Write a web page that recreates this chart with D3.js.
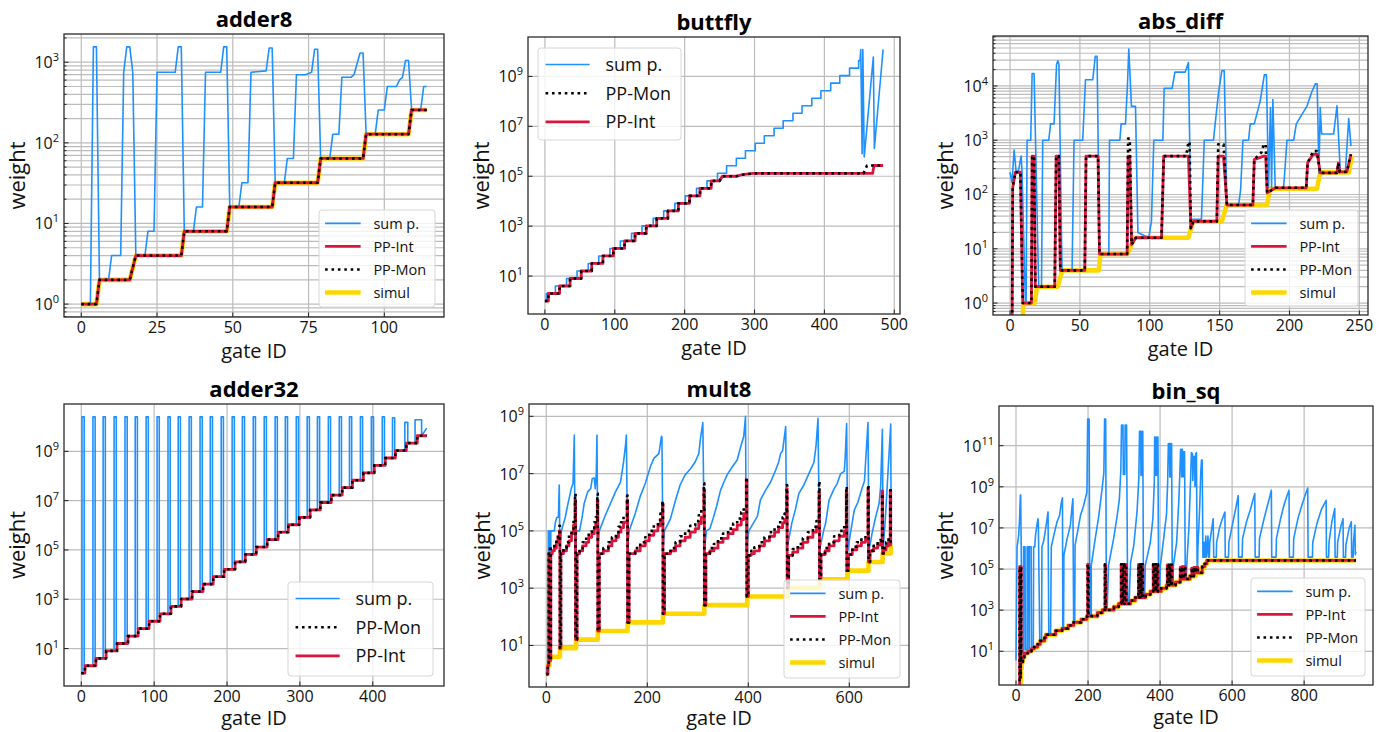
<!DOCTYPE html>
<html>
<head>
<meta charset="utf-8">
<script src="https://cdn.jsdelivr.net/npm/d3@7"></script>
<style>
  body { margin: 0; background: #fff; }
  svg { display: block; font-family: "Open Sans", "DejaVu Sans", sans-serif; }
</style>
</head>
<body>
<svg id="fig" width="1385" height="732"></svg>
<script>
// ---------- data (gate ID, weight) ----------

// adder8
var adder8XTicks = [0, 25, 50, 75, 100];
var adder8YExp = [0, 1, 2, 3];
var adder8PP = [[0,1],[5,1],[6,2],[16,2],[18,4],[33,4],[34,8],[48,8],[49,16],[63,16],[64,32],[78,32],[79,64],[93,64],[94,128],[108,128],[109,256],[114,256]];
var adder8Sum = [[0,1],[3,1],[4,1550],[5,1550],[6,2],[9,2],[10,4],[13,4],[14,750],[15,1550],[16,1550],[17,750],[18,4],[21,4],[22,8],[24,8],[25,750],[31,750],[32,1550],[33,1550],[34,8],[37,8],[38,16],[40,16],[41,750],[46,750],[47,1550],[48,1550],[49,16],[52,16],[53,32],[55,32],[56,750],[61,780],[62,1500],[63,1500],[64,32],[67,32],[68,64],[70,64],[71,700],[74,700],[76,750],[77,1450],[78,1450],[79,64],[82,64],[83,128],[85,128],[86,650],[89,650],[90,700],[92,1300],[93,1300],[94,128],[97,128],[98,256],[100,256],[101,500],[104,500],[105,600],[106,650],[107,1050],[108,1050],[109,256],[112,256],[113,500],[114,500]];

// buttfly
var buttflyXTicks = [0, 100, 200, 300, 400, 500];
var buttflyYExp = [1, 3, 5, 7, 9];
var buttflySumGates = [0,2,15,31,46,62,77,93,108,124,139,155,170,186,201,217,232,247,260,274,287,301,314,328,341,355,368,382,395,409,422,436,449];
var buttflySumLevels = [1,2,4,8,16,32,64,128,256,512,1024,2048,4096,8192,16384,32768,65536,131072,262144,524288,1048576,2097152,4194304,8388608,16777216,33554432,67108864,134217728,268435456,536870912,1073741824,2147483648,4294967296];
var buttflySumTail = [[451,4.3e9],[452,1.2e10],[454,8e5],[455,1.2e10],[457,6e5],[470,6e9],[471.5,1.3e6],[484,1.2e10]];
var buttflyIntGates = [0,5,21,36,52,67,83,98,114,129,145,160,176,191,207,222,238];
var buttflyIntLevels = [1,2,4,8,16,32,64,128,256,512,1024,2048,4096,8192,16384,32768,65536];
var buttflyIntTail = [[250,65536],[254,1e5],[274,1e5],[282,1.15e5],[298,1.3e5],[469,1.3e5],[471,2.7e5],[484,2.7e5]];
var buttflyMonTail = [[250,65536],[254,1e5],[274,1e5],[282,1.15e5],[298,1.3e5],[456,1.3e5],[458,1.8e5],[461,2.7e5],[484,2.7e5]];

// abs_diff
var absDiffXTicks = [0, 50, 100, 150, 200, 250];
var absDiffYExp = [0, 1, 2, 3, 4];
var absDiffSum = [[0,257],[1.4,165],[2.9,660],[4.3,270],[6,270],[7.9,510],[8.5,300],[11,1],[11.5,1],[12.2,1000],[14.8,1000],[15.8,17000],[17.2,17000],[20.5,2],[22.5,2],[23.4,1000],[27.7,1000],[29,2000],[31.5,2000],[33.3,25000],[34.2,29000],[35,25000],[37.2,4],[44.4,4],[45.8,1000],[52,1000],[54,13000],[59.2,13000],[61,35000],[62.3,35000],[64,8],[70.7,8],[71.2,1000],[78.6,1000],[79.5,2000],[82.6,2000],[84,10000],[85,48000],[86.9,4200],[89.8,4200],[91.5,20],[99.3,16],[101.2,32],[102.9,1000],[109.4,1000],[110.3,9000],[116,9000],[118,18000],[125.4,18000],[127.7,27000],[129.4,35],[137,35],[139,1000],[145.6,1000],[146.8,2000],[149.2,7500],[151.6,19000],[153.3,19000],[155.2,64],[163.6,64],[165,120],[166.7,1000],[170.7,1000],[171.9,2000],[174.8,2000],[179,5200],[182,16000],[183.5,16000],[185,133],[186.4,4000],[187.2,133],[188.1,5600],[189.8,133],[195.8,133],[198.2,1000],[203,1000],[204.9,2000],[212.6,4300],[216,7800],[218.6,11000],[219.8,11000],[221.1,250],[222,4000],[223,1300],[231.6,1300],[234,4300],[236.4,260],[240,260],[242.4,2500],[244,780]];
var absDiffInt = [[1.4,0.1],[1.9,133],[3.8,257],[7.4,257],[9.1,1],[15.3,1],[15.8,510],[17.2,510],[18.1,2],[32,2],[33,510],[34.9,510],[36,4],[53.5,4],[54.4,510],[63,510],[64,8],[83.8,8],[84.5,510],[85.7,510],[87,12],[90,16],[108.4,16],[110,510],[127.7,510],[129.4,24],[131.3,32],[148,32],[149,510],[152.8,510],[155.2,64],[173.8,64],[174.8,440],[181.5,510],[183,510],[184,107],[190,133],[212,133],[213,383],[217,550],[220,550],[222,250],[234,250],[235,380],[236,260],[241,260],[244,550]];
var absDiffMon = [[1.4,0.1],[1.9,133],[3.8,257],[7.4,257],[9.1,1],[15.3,1],[15.8,510],[17.2,510],[18.1,2],[32,2],[33,510],[34.9,510],[36,4],[53.5,4],[54.4,510],[63,510],[64,8],[83.8,8],[84.5,1070],[85.7,1070],[87,12],[90,16],[108.4,16],[110,510],[126,510],[127.7,930],[128.5,930],[129.4,24],[131.3,32],[148,32],[149,840],[152.8,840],[155.2,64],[173.8,64],[174.8,440],[180,600],[181.5,840],[183,840],[184,107],[190,133],[212,133],[213,383],[217,630],[219.5,630],[222,250],[234,250],[235,380],[236,260],[241,260],[244,550]];
var absDiffSimul = [[8.3,0.1],[9.5,1],[17.7,1],[19.3,2],[34.2,2],[37.3,4],[63.5,4],[64.7,8],[84,8],[89,16],[127.7,16],[131,32],[151.6,32],[155,64],[183.9,64],[186,128],[219.7,128],[222,256],[242.4,256],[244.7,512]];

// adder32
var adder32XTicks = [0, 100, 200, 300, 400];
var adder32YExp = [1, 3, 5, 7, 9];
var adder32Gates = [0,5,20,34,49,64,78,93,108,123,137,152,167,181,196,211,225,240,255,270,284,299,314,328,343,358,372,387,402,417,431,446,461];
var adder32Levels = [1,2,4,8,16,32,64,128,256,512,1024,2048,4096,8192,16384,32768,65536,131072,262144,524288,1048576,2097152,4194304,8388608,16777216,33554432,67108864,134217728,268435456,536870912,1073741824,2147483648,4294967296];
var adder32SpikeUp = [1,16,30,45,60,74,89,104,119,133,148,163,177,192,207,221,236,251,266,280,295,310,324,339,354,368,383,398,413,427,444,458];
var adder32SpikeDown = [4,19,33,48,63,77,92,107,122,136,151,166,180,195,210,224,239,254,269,283,298,313,327,342,357,371,386,401,416,430,448,467];
var adder32SpikeTop = [2.5e10,2.5e10,2.5e10,2.5e10,2.5e10,2.5e10,2.5e10,2.5e10,2.5e10,2.5e10,2.5e10,2.5e10,2.5e10,2.5e10,2.5e10,2.5e10,2.5e10,2.5e10,2.5e10,2.5e10,2.5e10,2.5e10,2.5e10,2.5e10,2.5e10,2.5e10,2.5e10,2.5e10,2.5e10,2.3e10,1.5e10,1.9e10];
var adder32SumTail = [[474,8.7e9]];

// mult8
var mult8XTicks = [0, 200, 400, 600];
var mult8YExp = [1, 3, 5, 7, 9];
var mult8Sum = [[0,1],[3,2],[4,2],[4,1e5],[6,1e5],[7,1.6e4],[9,1.6e4],[9,1e5],[16,1e5],[18,2e5],[21,3e5],[24,3e5],[25.7,4e6],[27,2.8e4],[30,1e5],[37.6,3e5],[43,9e5],[49.5,3e6],[53,4.5e6],[55.5,2.2e8],[57,2.1e4],[60,1e5],[66,1e5],[71,3e5],[75,9e5],[82,2.3e6],[88,3e6],[91,6.7e6],[95,7e6],[97,3e6],[99,1e7],[100.4,2.2e8],[102,2.1e4],[105,1e5],[117,3.5e5],[127,9e5],[137,2.3e6],[147,5e6],[153,2.5e7],[157,1e8],[158.6,2.2e8],[161,2.1e4],[164,1e5],[176,4e5],[186,1.6e6],[196,4.5e6],[206,1.7e7],[213,3.4e7],[223,5e7],[228,2e8],[229,1.9e8],[231,2.1e4],[234,1e5],[246,2.7e5],[256,1.2e6],[265,4e6],[275,9e6],[286,1.5e7],[295,2.6e7],[302,5e7],[305,1.5e8],[310,6e8],[313,2e4],[317,1e5],[324,1.2e5],[330,2.6e5],[337,7e5],[345,2.6e6],[352,5.2e6],[358,9e6],[368,1.7e7],[378,3e7],[385,8.7e7],[391,2e8],[394.5,1e9],[396,2.1e4],[401,1e5],[418,3.2e5],[424,1.2e6],[434,2.6e6],[444,5e6],[454,1.3e7],[460,2.5e7],[464,5e7],[468,6.3e7],[474,4.4e8],[476,2.1e4],[486,1.8e5],[493,5.4e5],[500,2e6],[510,4e6],[520,1e7],[530,2.5e7],[534,8.7e7],[538,8.5e8],[541,2.1e4],[549,1e5],[553,1.8e5],[560,1.2e6],[570,3e6],[576,4.5e6],[583,1e7],[590,1.2e7],[592,4e7],[594.7,5.6e8],[597,2.1e4],[603,1e5],[610,5.4e5],[617,1e6],[624,2.6e6],[630,5.5e6],[637,6e8],[639,2.1e4],[645,8e4],[652,3e5],[659,9e5],[662,3.5e6],[665.5,3.5e8],[667,2.1e4],[669,7e4],[672,4e5],[682,5.4e8],[683,4e4],[684,3.5e4]];
var mult8Int = [[0,1],[3,2],[5,1.6e4],[7,3],[9,1.6e4],[12,2e4],[16,2.5e4],[20,4e4],[23,6e4],[26,1e5],[27,8],[29,1.6e4],[34,2e4],[40,3e4],[45,4.5e4],[50,8e4],[54,1.6e5],[57,1.2e6],[58,16],[61,1.6e4],[66,2e4],[72,3e4],[79,4e4],[84,6e4],[90,8e4],[95,1.2e5],[98,1.8e5],[101,1.2e6],[102,32],[105,1.6e4],[113,2e4],[123,3e4],[130,4.5e4],[138,6e4],[143,9e4],[148,1.3e5],[153,2e5],[160,1.2e6],[161,64],[164,1.6e4],[176,2e4],[186,3e4],[196,4.5e4],[204,7e4],[213,1e5],[221,1.5e5],[226,2.5e5],[230,9e5],[231,128],[234,1.6e4],[246,2e4],[256,3e4],[265,4.5e4],[275,6e4],[285,9e4],[295,1.2e5],[302,1.8e5],[307,3e5],[312,2.8e6],[313,256],[316,1.6e4],[324,2e4],[332,2.5e4],[340,4e4],[350,5.5e4],[360,8e4],[370,1.1e5],[378,1.6e5],[386,2.5e5],[391,4e5],[396,6e6],[397,512],[400,1.4e4],[406,1.6e4],[412,2e4],[422,3e4],[432,4.5e4],[442,6.5e4],[452,9e4],[460,1.3e5],[468,1.9e5],[472,2.5e5],[476,3e6],[477,1024],[480,1.4e4],[488,1.8e4],[498,2.5e4],[508,4e4],[518,6e4],[528,9e4],[535,1.4e5],[540,2.3e6],[541,2048],[544,1.5e4],[552,2e4],[560,3e4],[570,4.5e4],[580,6.5e4],[590,1e5],[594,2.2e6],[595,4096],[598,1.5e4],[606,2.2e4],[615,3e4],[624,4e4],[632,5e4],[637,2.6e6],[638,8192],[641,2e4],[648,2.5e4],[656,3.2e4],[662,4e4],[665,2.5e6],[666,16384],[668,2.2e4],[673,3e4],[678,5e4],[681,2.6e6],[682,32768],[684,32768]];
var mult8Mon = [[0,1],[3,2],[5,2.4e4],[7,3],[9,2.4e4],[12,2.5e4],[16,3.5e4],[20,6e4],[23,9e4],[26,1.5e5],[27,8],[29,1.6e4],[34,2.5e4],[40,4e4],[45,7e4],[50,1.2e5],[54,2.5e5],[57,2e6],[58,16],[61,1.6e4],[66,2.5e4],[72,4e4],[79,6e4],[84,9e4],[90,1.3e5],[95,2e5],[98,3e5],[101,2e6],[102,32],[105,1.6e4],[113,2.5e4],[123,4e4],[130,6e4],[138,9e4],[143,1.4e5],[148,2e5],[153,3.2e5],[160,1.7e6],[161,64],[164,1.6e4],[176,2.5e4],[186,4e4],[196,6e4],[204,1e5],[213,1.6e5],[221,2.4e5],[226,4e5],[230,1.1e6],[231,128],[234,1.6e4],[246,2.5e4],[256,4e4],[265,6.5e4],[275,1e5],[285,1.5e5],[295,2.2e5],[302,3.5e5],[307,6e5],[312,4.6e6],[313,256],[316,1.6e4],[324,2.5e4],[332,3.5e4],[340,5.5e4],[350,8e4],[360,1.2e5],[370,1.8e5],[378,2.7e5],[386,4.5e5],[391,7e5],[396,7.5e6],[397,512],[400,1.4e4],[406,2e4],[412,2.7e4],[422,4e4],[432,6e4],[442,9e4],[452,1.4e5],[460,2e5],[468,3e5],[472,4e5],[476,4e6],[477,1024],[480,1.4e4],[488,2.3e4],[498,3.5e4],[508,5.5e4],[518,9e4],[528,1.4e5],[535,2.2e5],[540,5.4e6],[541,2048],[544,1.5e4],[552,2.5e4],[560,4e4],[570,6.5e4],[580,1e5],[590,1.6e5],[594,3.5e6],[595,4096],[598,1.5e4],[606,2.8e4],[615,4e4],[624,6e4],[632,8e4],[637,4e6],[638,8192],[641,2e4],[648,3e4],[656,4.5e4],[662,6e4],[665,2e6],[666,16384],[668,2.5e4],[673,4e4],[678,7e4],[681,2.6e6],[682,32768],[684,32768]];
var mult8SimulGates = [0,3,6,27,59,102,161,231,313,398,478,542,596,638,666,682];
var mult8SimulLevels = [1,2,4,8,16,32,64,128,256,512,1024,2048,4096,8192,16384,32768];

// bin_sq
var binSqXTicks = [0, 200, 400, 600, 800];
var binSqYExp = [1, 3, 5, 7, 9, 11];
var binSqSum = [[0,3.6],[2.9,1.2e6],[7.5,4.4e6],[10,3e7],[12.1,4e8],[13,4e8],[14.9,1.5e5],[16,10],[21,10],[21,1.2e6],[25,1.2e6],[26,12],[31,12],[31,1.2e6],[35,1.2e6],[36,12],[37,12],[37,1.2e6],[42,1.2e6],[43,14],[48,14],[49,1.2e6],[52,1.2e6],[54,4e6],[57,1e7],[61,2.8e7],[62,2e7],[66,30],[71,30],[72,1.2e6],[76,2e6],[80,5e6],[84,1.5e7],[89,6e7],[91,65],[96,72],[98,1.2e6],[105,4.4e6],[114,2e7],[121,4e7],[126,1.8e8],[129,2.9e8],[130,126],[132,126],[133,4.7e5],[142,3e6],[151,1.35e7],[156,1.3e8],[158,2.6e8],[160,256],[163,256],[164,1.4e6],[179,4e7],[188,1.26e8],[197,5.6e8],[199,2e12],[203,2e12],[205,512],[209,512],[209,1.5e5],[220,3e6],[230,4e7],[239,8e8],[244,5e9],[246,2e12],[249,2e12],[251,1024],[253,1024],[257,1.5e5],[271,3e6],[281,4e7],[287,2.5e8],[291,6e9],[293,1e12],[297,1e12],[298,4e9],[302,4e9],[303,1e12],[307,1e12],[310,2048],[314,2048],[318,2e5],[327,1.4e6],[336,6e7],[341,2.5e9],[343,5e11],[346,5e11],[347,3.6e9],[349,3.6e9],[350,5e11],[352,5e11],[354,4096],[357,4096],[359,1.5e5],[373,2e6],[380,2.8e7],[384,1.6e9],[385,2.6e11],[387,2.6e11],[388,3.6e9],[390,3.6e9],[391,2.6e11],[394,2.6e11],[396,8192],[399,8192],[401,1.5e5],[410,3e6],[418,5e7],[421,1.6e9],[423,1.26e11],[426,1.26e11],[427,3e9],[429,3e9],[430,1.26e11],[432,1.26e11],[434,16384],[436,16384],[437,1.5e5],[446,2e6],[452,2e8],[455,5e9],[457,6.6e10],[459,6.6e10],[460,3e9],[462,6.6e10],[464,3e9],[466,5e10],[468,5e10],[470,32768],[473,32768],[474,1.5e5],[480,1e7],[485,3e9],[487,4.6e10],[490,4e10],[491,2e9],[493,3e10],[496,3e10],[497,1e9],[499,4e10],[501,4.6e10],[503,65536],[504,65536],[505,1e6],[510,1e8],[513,5e9],[515,2e10],[517,2e10],[519,3.8e5],[522,3.8e5],[523,2e6],[525,3.8e5],[527,4e6],[529,3.8e5],[531,1e6],[533,4e6],[535,3.8e5],[537,3.8e5],[538,2e6],[542,6e6],[547.5,2.8e7],[549,3.8e5],[556,3.8e5],[557,2e6],[565,1e7],[572,2.5e7],[580,5.9e7],[581,3.8e5],[590,3.8e5],[591,2e6],[598,8e6],[606,4e7],[612,1.3e8],[617,3.8e8],[618,3.8e5],[628,3.8e5],[629,3e6],[640,2e7],[650,7e7],[657,2e8],[663,4.7e8],[664,3.8e5],[675,3.8e5],[676,3e6],[688,2.5e7],[698,1.2e8],[704,3e8],[709,6.8e8],[710,3.8e5],[722,3.8e5],[723,3e6],[735,3e7],[745,1.5e8],[752,3.5e8],[758,6.8e8],[759,3.8e5],[770,3.8e5],[771,3e6],[783,3e7],[795,1.5e8],[803,4e8],[810,8.7e8],[811,3.8e5],[823,3.8e5],[824,2e6],[835,1.5e7],[848,8e7],[861,2.2e8],[862,3.8e5],[868,3.8e5],[869,2e6],[877,2e7],[885,8.7e7],[886,3.8e5],[892,3.8e5],[893,2e6],[902,1.2e7],[908,2.8e7],[909,3.8e5],[915,3.8e5],[916,1.5e6],[925,1e7],[931,2e7],[932,3.8e5],[936,3.8e5],[937,2e6],[941,1.35e7],[942,5e5],[944,7e5]];
var binSqInt = [[9.5,0.01],[10,1.3e5],[12,0.5],[13,1.3e5],[14.5,3],[16,3],[19,5],[23,8],[33,10],[43,13],[50,16],[60,22],[67,32],[79,45],[83,64],[99,64],[110,100],[128,128],[145,180],[160,256],[175,256],[181,360],[197,512],[199,1.7e5],[201,512],[220,512],[226,750],[240,1024],[247,1.7e5],[249,1024],[264,1024],[272,1450],[285,2048],[292,1.7e5],[295,2048],[297,1.7e5],[300,2048],[302,1.7e5],[306,2048],[313,2048],[318,2900],[331,4096],[340,1.7e5],[343,4096],[345,1.7e5],[348,4096],[349,1.7e5],[352,4096],[355,4096],[360,5800],[373,8192],[381,1.7e5],[384,8192],[386,1.7e5],[389,8192],[390,1.7e5],[394,8192],[398,8192],[403,11500],[418,16384],[420,1.6e5],[423,16384],[425,1.6e5],[428,16384],[430,1.6e5],[433,16384],[437,16384],[443,23000],[456,1.2e5],[459,32768],[461,1.3e5],[464,32768],[466,1.3e5],[470,32768],[477,32768],[483,45000],[488,1.1e5],[491,45000],[494,1.2e5],[498,65536],[500,1.2e5],[505,65536],[512,65536],[517,130000],[524,180000],[530,262144],[944,262144]];
var binSqSimul = [[13,0.01],[14,1.5],[16,3],[19,5],[23,8],[33,10],[43,13],[50,16],[60,22],[67,32],[79,45],[83,64],[99,64],[110,100],[128,128],[145,180],[160,256],[175,256],[181,360],[197,512],[220,512],[226,750],[240,1024],[264,1024],[272,1450],[285,2048],[313,2048],[318,2900],[331,4096],[355,4096],[360,5800],[373,8192],[398,8192],[403,11500],[418,16384],[437,16384],[443,23000],[456,32768],[477,32768],[483,45000],[498,65536],[512,65536],[517,130000],[524,180000],[530,262144],[944,262144]];

// ---------- helpers that expand the step data into point lists ----------
function stairs(gates, levels, end) {
    var pts = [];
    gates.forEach(function (g, i) {
        if (i > 0) pts.push([g, levels[i - 1]]);
        pts.push([g, levels[i]]);
    });
    pts.push([end, levels[levels.length - 1]]);
    return pts;
}

function spikes(gates, levels, up, down, top) {
    var pts = [[0, levels[0]]];
    up.forEach(function (u, j) {
        pts.push([u, levels[j]]);
        pts.push([u, top[j]]);
        pts.push([down[j], top[j]]);
        pts.push([down[j], levels[j + 1]]);
    });
    return pts;
}

var buttflySum = stairs(buttflySumGates, buttflySumLevels, 451).concat(buttflySumTail);
var buttflyInt = stairs(buttflyIntGates, buttflyIntLevels, 250).concat(buttflyIntTail);
var buttflyMon = stairs(buttflyIntGates, buttflyIntLevels, 250).concat(buttflyMonTail);
var adder32PP = stairs(adder32Gates, adder32Levels, 474);
var adder32Sum = spikes(adder32Gates, adder32Levels, adder32SpikeUp, adder32SpikeDown, adder32SpikeTop).concat(adder32SumTail);
var mult8Simul = stairs(mult8SimulGates, mult8SimulLevels, 684);

// ---------- styles ----------
var COLOR = {sum: '#1e90ff', int: '#dc143c', mon: '#000000', simul: '#ffd700'};
var WIDTH = {sum: 1.6, int: 2.8, mon: 2.6, simul: 4.6};
var LABEL = {sum: 'sum p.', int: 'PP-Int', mon: 'PP-Mon', simul: 'simul'};
var DOTS = '2.6,3.8';

var panels = [
    {title: 'adder8', box: [64, 34, 444, 317], xDom: [-5.7, 119.7], yDom: [-0.16, 3.35],
        xTicks: adder8XTicks, yExp: adder8YExp, gridExp: adder8YExp, minor: true, yLabOff: 39, xLabOff: 41,
        series: [['simul', adder8PP], ['sum', adder8Sum], ['int', adder8PP], ['mon', adder8PP]],
        legend: {keys: ['sum', 'int', 'mon', 'simul'], x: 319, y: 210, w: 116, h: 97, fs: 14.5}},
    {title: 'buttfly', box: [528, 37, 900, 314], xDom: [-24.2, 508.2], yDom: [-0.52, 10.58],
        xTicks: buttflyXTicks, yExp: buttflyYExp, gridExp: buttflyYExp, minor: false, yLabOff: 39, xLabOff: 41,
        series: [['sum', buttflySum], ['int', buttflyInt], ['mon', buttflyMon]],
        legend: {keys: ['sum', 'mon', 'int'], x: 538, y: 48, w: 143, h: 92, fs: 18}},
    {title: 'abs_diff', box: [993, 36, 1368, 315], xDom: [-12.2, 256.2], yDom: [-0.22, 4.92],
        xTicks: absDiffXTicks, yExp: absDiffYExp, gridExp: absDiffYExp, minor: true, yLabOff: 40, xLabOff: 41,
        series: [['simul', absDiffSimul], ['sum', absDiffSum], ['int', absDiffInt], ['mon', absDiffMon]],
        legend: {keys: ['sum', 'int', 'mon', 'simul'], x: 1245, y: 210, w: 113, h: 96, fs: 14.5}},
    {title: 'adder32', box: [64, 404, 444, 686], xDom: [-23.7, 497.7], yDom: [-0.52, 10.92],
        xTicks: adder32XTicks, yExp: adder32YExp, gridExp: adder32YExp, minor: false, yLabOff: 39, xLabOff: 39,
        series: [['sum', adder32Sum], ['int', adder32PP], ['mon', adder32PP]],
        legend: {keys: ['sum', 'mon', 'int'], x: 288, y: 582, w: 145, h: 94, fs: 18}},
    {title: 'mult8', box: [529, 404, 909, 687], xDom: [-34.2, 718.2], yDom: [-0.45, 9.43],
        xTicks: mult8XTicks, yExp: mult8YExp, gridExp: mult8YExp, minor: false, yLabOff: 39, xLabOff: 38,
        series: [['simul', mult8Simul], ['sum', mult8Sum], ['int', mult8Int, 'step'], ['mon', mult8Mon, 'step']],
        legend: {keys: ['sum', 'int', 'mon', 'simul'], x: 784, y: 580, w: 116, h: 98, fs: 14.5}},
    {title: 'bin_sq', box: [999, 406, 1373, 685], xDom: [-47.2, 991.2], yDom: [-0.64, 12.93],
        xTicks: binSqXTicks, yExp: binSqYExp, gridExp: binSqYExp, minor: false, yLabOff: 46, xLabOff: 39,
        series: [['simul', binSqSimul, 'step'], ['sum', binSqSum], ['int', binSqInt, 'step'], ['mon', binSqInt, 'step']],
        legend: {keys: ['sum', 'int', 'mon', 'simul'], x: 1251, y: 578, w: 114, h: 98, fs: 14.5}}
];

var svg = d3.select('#fig');
var defs = svg.append('defs');

function drawPanel(p, idx) {
    var L = p.box[0], T = p.box[1], R = p.box[2], B = p.box[3];
    var x = d3.scaleLinear().domain(p.xDom).range([L, R]);
    var y = d3.scaleLog().domain([Math.pow(10, p.yDom[0]), Math.pow(10, p.yDom[1])]).range([B, T]);
    var g = svg.append('g');

    defs.append('clipPath').attr('id', 'clip' + idx)
        .append('rect').attr('x', L).attr('y', T).attr('width', R - L).attr('height', B - T);

    // grid
    var grid = g.append('g').attr('stroke', '#bcbcbc').attr('stroke-width', 1.2);
    var minorVals = [];
    if (p.minor) {
        for (var e = Math.floor(p.yDom[0]); e <= Math.ceil(p.yDom[1]); e++) {
            for (var k = 2; k <= 9; k++) {
                var v = k * Math.pow(10, e);
                if (v > y.domain()[0] && v < y.domain()[1]) minorVals.push(v);
            }
        }
    }
    grid.selectAll('.ymin').data(minorVals).enter().append('line')
        .attr('x1', L).attr('x2', R)
        .attr('y1', function (d) { return y(d); }).attr('y2', function (d) { return y(d); });
    grid.selectAll('.ymaj').data(p.gridExp).enter().append('line')
        .attr('x1', L).attr('x2', R)
        .attr('y1', function (d) { return y(Math.pow(10, d)); }).attr('y2', function (d) { return y(Math.pow(10, d)); });
    grid.selectAll('.xg').data(p.xTicks).enter().append('line')
        .attr('y1', T).attr('y2', B)
        .attr('x1', function (d) { return x(d); }).attr('x2', function (d) { return x(d); });

    // lines
    var plot = g.append('g').attr('clip-path', 'url(#clip' + idx + ')');
    p.series.forEach(function (s) {
        var key = s[0];
        var line = d3.line()
            .x(function (d) { return x(d[0]); })
            .y(function (d) { return y(d[1]); })
            .curve(s[2] === 'step' ? d3.curveStepAfter : d3.curveLinear);
        var path = plot.append('path')
            .attr('d', line(s[1]))
            .attr('fill', 'none')
            .attr('stroke', COLOR[key])
            .attr('stroke-width', WIDTH[key])
            .attr('stroke-linejoin', 'round');
        if (key === 'mon') path.attr('stroke-dasharray', DOTS);
    });

    // inward ticks
    var ticks = g.append('g').attr('stroke', '#222').attr('stroke-width', 1);
    ticks.selectAll('.xt').data(p.xTicks).enter().append('line')
        .attr('x1', function (d) { return x(d); }).attr('x2', function (d) { return x(d); })
        .attr('y1', B).attr('y2', B - 4.5);
    ticks.selectAll('.yt').data(p.gridExp).enter().append('line')
        .attr('x1', L).attr('x2', L + 4.5)
        .attr('y1', function (d) { return y(Math.pow(10, d)); }).attr('y2', function (d) { return y(Math.pow(10, d)); });
    ticks.selectAll('.ym').data(minorVals).enter().append('line')
        .attr('x1', L).attr('x2', L + 2.5)
        .attr('y1', function (d) { return y(d); }).attr('y2', function (d) { return y(d); });

    // frame
    g.append('rect').attr('x', L).attr('y', T).attr('width', R - L).attr('height', B - T)
        .attr('fill', 'none').attr('stroke', '#2a2a2a').attr('stroke-width', 1.3);

    // tick labels
    g.selectAll('.xl').data(p.xTicks).enter().append('text')
        .attr('x', function (d) { return x(d); }).attr('y', B + 16)
        .attr('text-anchor', 'middle').attr('font-size', 16).attr('fill', '#111')
        .text(function (d) { return d; });
    var yl = g.selectAll('.yl').data(p.yExp).enter().append('text')
        .attr('x', L - 5).attr('y', function (d) { return y(Math.pow(10, d)) + 6; })
        .attr('text-anchor', 'end').attr('font-size', 16).attr('fill', '#111');
    yl.append('tspan').text('10');
    yl.append('tspan').attr('font-size', 11).attr('dy', -7).text(function (d) { return d; });

    // axis labels and title
    g.append('text').attr('x', (L + R) / 2).attr('y', B + p.xLabOff)
        .attr('text-anchor', 'middle').attr('font-size', 20).attr('fill', '#111').text('gate ID');
    g.append('text')
        .attr('transform', 'translate(' + (L - p.yLabOff) + ',' + ((T + B) / 2) + ') rotate(-90)')
        .attr('text-anchor', 'middle').attr('font-size', 22).attr('fill', '#111').text('weight');
    g.append('text').attr('x', (L + R) / 2).attr('y', T - 7)
        .attr('text-anchor', 'middle').attr('font-size', 22).attr('font-weight', 'bold')
        .attr('fill', '#000').text(p.title);

    // legend
    var lg = p.legend, fs = lg.fs;
    var leg = g.append('g');
    leg.append('rect').attr('x', lg.x).attr('y', lg.y).attr('width', lg.w).attr('height', lg.h)
        .attr('rx', 3).attr('fill', '#fff').attr('fill-opacity', 0.8)
        .attr('stroke', '#d6d6d6').attr('stroke-width', 1);
    lg.keys.forEach(function (key, i) {
        var cy = lg.y + fs * 0.92 + i * fs * 1.59;
        var hx = lg.x + fs * 0.42;
        var hl = leg.append('line').attr('x1', hx).attr('x2', hx + fs * 2.45)
            .attr('y1', cy).attr('y2', cy)
            .attr('stroke', COLOR[key]).attr('stroke-width', WIDTH[key]);
        if (key === 'mon') hl.attr('stroke-dasharray', DOTS);
        leg.append('text').attr('x', lg.x + fs * 3.75).attr('y', cy + fs * 0.36)
            .attr('font-size', fs).attr('fill', '#111').text(LABEL[key]);
    });
}

panels.forEach(drawPanel);
</script>
</body>
</html>
